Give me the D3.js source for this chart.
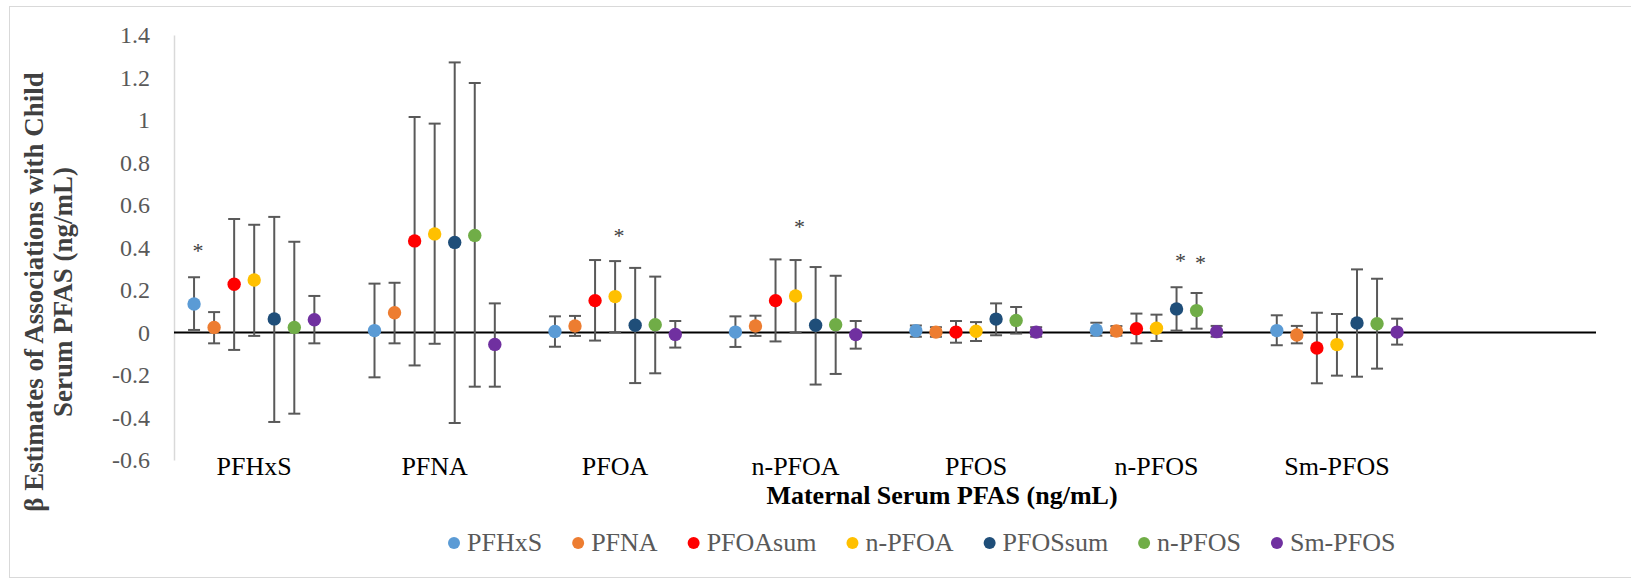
<!DOCTYPE html>
<html>
<head>
<meta charset="utf-8">
<script src="https://cdn.jsdelivr.net/npm/d3@7"></script>
<style>
  body { margin: 0; background: #fff; }
  text { font-family: "Liberation Serif", "Times New Roman", serif; }
</style>
</head>
<body>
<div id="chart"></div>
<script>
// maternal PFAS (x groups) and child PFAS (series)
const groups = ["PFHxS", "PFNA", "PFOA", "n-PFOA", "PFOS", "n-PFOS", "Sm-PFOS"];
const seriesNames = ["PFHxS", "PFNA", "PFOAsum", "n-PFOA", "PFOSsum", "n-PFOS", "Sm-PFOS"];
const seriesColors = ["#5B9BD5", "#ED7D31", "#FF0000", "#FFC000", "#1F4E79", "#70AD47", "#7030A0"];

// [estimate, lower CI, upper CI] for each maternal group
const pfhxs   = [[0.134, 0.012, 0.26], [0.009, -0.211, 0.23], [0.005, -0.067, 0.076], [0.002, -0.068, 0.076], [0.008, -0.02, 0.033], [0.012, -0.015, 0.046], [0.009, -0.06, 0.081]];
const pfna    = [[0.024, -0.051, 0.096], [0.093, -0.051, 0.234], [0.031, -0.016, 0.078], [0.031, -0.016, 0.079], [0.002, -0.02, 0.025], [0.007, -0.015, 0.03], [-0.012, -0.051, 0.031]];
const pfoaSum = [[0.227, -0.082, 0.534], [0.431, -0.155, 1.014], [0.15, -0.038, 0.341], [0.15, -0.042, 0.344], [0.002, -0.048, 0.054], [0.018, -0.051, 0.089], [-0.073, -0.239, 0.093]];
const nPfoa   = [[0.247, -0.016, 0.507], [0.464, -0.053, 0.983], [0.169, 0.001, 0.336], [0.172, 0.0, 0.341], [0.006, -0.04, 0.049], [0.02, -0.04, 0.084], [-0.057, -0.203, 0.087]];
const pfosSum = [[0.064, -0.421, 0.544], [0.424, -0.426, 1.271], [0.034, -0.238, 0.304], [0.034, -0.245, 0.308], [0.063, -0.013, 0.137], [0.111, 0.009, 0.213], [0.045, -0.208, 0.297]];
const nPfos   = [[0.024, -0.382, 0.427], [0.457, -0.255, 1.174], [0.037, -0.192, 0.263], [0.037, -0.195, 0.267], [0.057, -0.005, 0.12], [0.103, 0.018, 0.186], [0.041, -0.17, 0.253]];
const smPfos  = [[0.06, -0.051, 0.172], [-0.056, -0.255, 0.137], [-0.009, -0.071, 0.054], [-0.01, -0.076, 0.054], [0.002, -0.02, 0.025], [0.004, -0.02, 0.031], [0.002, -0.057, 0.065]];

const yTicks = [-0.6, -0.4, -0.2, 0, 0.2, 0.4, 0.6, 0.8, 1, 1.2, 1.4];

// significance marks: group index, series index, height of the asterisk
const stars = [
  {g: 0, s: 0, v: 0.40},
  {g: 2, s: 3, v: 0.47},
  {g: 3, s: 3, v: 0.51},
  {g: 5, s: 4, v: 0.35},
  {g: 5, s: 5, v: 0.34}
];

const allSeries = [pfhxs, pfna, pfoaSum, nPfoa, pfosSum, nPfos, smPfos];

const width = 1631, height = 579;
const plotLeft = 174, plotRight = 1596, plotTop = 35, plotBottom = 460;

const svg = d3.select("#chart").append("svg")
  .attr("width", width)
  .attr("height", height);

// chart border
svg.append("rect")
  .attr("x", 9.5).attr("y", 6.5)
  .attr("width", width).attr("height", height - 8)
  .attr("fill", "none")
  .attr("stroke", "#d9d9d9");

const x = d3.scaleLinear().domain([0, 7.88]).range([plotLeft, plotRight]);
const y = d3.scaleLinear().domain([-0.6, 1.4]).range([plotBottom, plotTop]);
const pos = (g, s) => x(g + (s + 1) / 9);

// y axis
const yAxis = svg.append("g")
  .attr("transform", `translate(${plotLeft},0)`)
  .call(d3.axisLeft(y).tickValues(yTicks).tickSize(0).tickPadding(24).tickFormat(d => String(d)));
yAxis.select(".domain").attr("stroke", "#d9d9d9").attr("stroke-width", 1.5);
yAxis.selectAll("text")
  .attr("fill", "#595959")
  .style("font-size", "24px")
  .style("font-family", '"Liberation Serif", "Times New Roman", serif');

// zero line
svg.append("line")
  .attr("x1", plotLeft).attr("x2", plotRight)
  .attr("y1", y(0)).attr("y2", y(0))
  .attr("stroke", "#000")
  .attr("stroke-width", 2);

// error bars and points
allSeries.forEach((rows, s) => {
  const gSer = svg.append("g");
  const bars = gSer.selectAll(".err").data(rows).enter().append("g");
  bars.append("line")
    .attr("x1", (d, g) => pos(g, s)).attr("x2", (d, g) => pos(g, s))
    .attr("y1", d => y(d[1])).attr("y2", d => y(d[2]))
    .attr("stroke", "#595959").attr("stroke-width", 2);
  [1, 2].forEach(k => {
    bars.append("line")
      .attr("x1", (d, g) => pos(g, s) - 6).attr("x2", (d, g) => pos(g, s) + 6)
      .attr("y1", d => y(d[k])).attr("y2", d => y(d[k]))
      .attr("stroke", "#595959").attr("stroke-width", 2);
  });
});
allSeries.forEach((rows, s) => {
  svg.append("g").selectAll("circle")
    .data(rows).enter()
    .append("circle")
    .attr("cx", (d, g) => pos(g, s))
    .attr("cy", d => y(d[0]))
    .attr("r", 6.7)
    .attr("fill", seriesColors[s]);
});

// asterisks
svg.selectAll(".star")
  .data(stars).enter()
  .append("text")
  .attr("x", d => pos(d.g, d.s) + 4)
  .attr("y", d => y(d.v) + 10)
  .attr("text-anchor", "middle")
  .attr("fill", "#404040")
  .style("font-size", "22px")
  .text("*");

// category labels
svg.selectAll(".cat")
  .data(groups).enter()
  .append("text")
  .attr("x", (d, i) => x(i + 4 / 9))
  .attr("y", 475)
  .attr("text-anchor", "middle")
  .style("font-size", "26px")
  .text(d => d);

// axis titles
svg.append("text")
  .attr("x", 942).attr("y", 504)
  .attr("text-anchor", "middle")
  .style("font-size", "26px")
  .style("font-weight", "bold")
  .text("Maternal Serum PFAS (ng/mL)");

const yTitle = svg.append("text")
  .attr("transform", "translate(43,292) rotate(-90)")
  .attr("text-anchor", "middle")
  .style("font-size", "27px")
  .style("font-weight", "bold")
  .attr("fill", "#404040");
yTitle.append("tspan").attr("x", 0).attr("dy", 0).text("β Estimates of Associations with Child");
yTitle.append("tspan").attr("x", 0).attr("dy", 29).text("Serum PFAS (ng/mL)");

// legend
let lx = 454;
seriesNames.forEach((name, i) => {
  svg.append("circle")
    .attr("cx", lx).attr("cy", 543).attr("r", 6)
    .attr("fill", seriesColors[i]);
  const t = svg.append("text")
    .attr("x", lx + 13).attr("y", 551)
    .attr("fill", "#595959")
    .style("font-size", "26px")
    .text(name);
  lx = lx + 13 + t.node().getComputedTextLength() + 36;
});
</script>
</body>
</html>
